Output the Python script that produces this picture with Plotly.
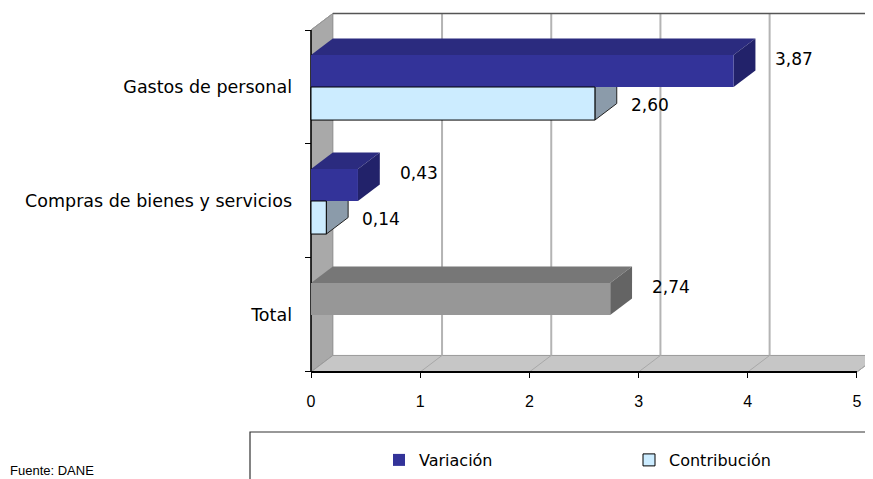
import plotly.graph_objects as go

# ---------------- data ----------------
categorias = ["Gastos de personal", "Compras de bienes y servicios", "Total"]
variacion = [3.87, 0.43, 2.74]
contribucion = [2.60, 0.14, None]
x_ticks = [0, 1, 2, 3, 4, 5]
x_tick_labels = ["0", "1", "2", "3", "4", "5"]
series_names = ["Variación", "Contribución"]
fuente = "Fuente: DANE"

# ---------------- geometry / style ----------------
pos = [2, 1, 0]            # category slots, top to bottom
VAR_W = 0.28
CON_W = 0.29
DX, DY = 0.2, 0.145        # 3-D depth offset (data units)
W, H = 873, 479
OFF = 8                    # page body margin in the browser
X_RANGE = [-2.775, 5.220]
Y_RANGE = [-1.509, 2.693]
X_MAX = 5
Y_LO, Y_HI = -0.5, 2.5


def px_x(px):   # page pixel -> paper fraction
    return (px - OFF) / W


def px_y(py):
    return (H - (py - OFF)) / H


var_front = ["#333399", "#333399", "#979797"]
var_top = ["#2b2b7f", "#2b2b7f", "#777777"]
var_side = ["#22226a", "#22226a", "#646464"]
con_front = "#CCECFF"
con_side = "#8b9baa"

shapes = []


def poly(pts, fill, line_color=None, line_width=0):
    path = "M " + " L ".join(f"{x},{y}" for x, y in pts) + " Z"
    shapes.append(dict(type="path", path=path, xref="x", yref="y", layer="below",
                       fillcolor=fill,
                       line=dict(color=line_color or fill, width=line_width)))


def seg(x0, y0, x1, y1, color, width):
    shapes.append(dict(type="line", x0=x0, y0=y0, x1=x1, y1=y1, xref="x", yref="y",
                       layer="below", line=dict(color=color, width=width)))


# walls
poly([(0, Y_LO), (0, Y_HI), (DX, Y_HI + DY), (DX, Y_LO + DY)], "#a9a9a9", "#8c8c8c", 1)
poly([(0, Y_LO), (X_MAX, Y_LO), (X_MAX + DX, Y_LO + DY), (DX, Y_LO + DY)], "#c6c6c6", "#9a9a9a", 1)
for t in x_ticks[1:]:
    seg(t + DX, Y_LO + DY, t + DX, Y_HI + DY, "#b4b4b4", 2)
    seg(t, Y_LO, t + DX, Y_LO + DY, "#a8a8a8", 1)
seg(DX, Y_HI + DY, X_MAX + DX + 0.2, Y_HI + DY, "#555555", 1.5)
seg(0, Y_HI, DX, Y_HI + DY, "#9a9a9a", 1)

# 3-D faces of the bars
for p, v, c, top, side in zip(pos, variacion, contribucion, var_top, var_side):
    y0, y1 = p, p + VAR_W
    poly([(0, y1), (v, y1), (v + DX, y1 + DY), (DX, y1 + DY)], top)
    poly([(v, y0), (v, y1), (v + DX, y1 + DY), (v + DX, y0 + DY)], side)
    if c is not None:
        y0c, y1c = p - CON_W, p
        poly([(c, y0c), (c, y1c), (c + DX, y1c + DY), (c + DX, y0c + DY)], con_side, "#222222", 1)

# front axis lines
seg(0, Y_LO, X_MAX, Y_LO, "#000000", 2)
seg(0, Y_LO, 0, Y_HI, "#000000", 1.5)

fig = go.Figure()
fig.add_trace(go.Bar(y=pos, x=variacion, orientation="h", width=VAR_W, offset=0,
                     name=series_names[0], marker=dict(color=var_front, line=dict(width=0)),
                     hoverinfo="skip"))
fig.add_trace(go.Bar(y=pos, x=contribucion, orientation="h", width=CON_W, offset=-CON_W,
                     name=series_names[1], marker=dict(color=con_front, line=dict(color="#000000", width=1)),
                     hoverinfo="skip"))

label_font = dict(family="DejaVu Sans", size=17, color="#000000")
annotations = []
for p, v, c in zip(pos, variacion, contribucion):
    annotations.append(dict(x=v + DX, y=p + VAR_W, xref="x", yref="y", text=f"{v:.2f}".replace(".", ","),
                            showarrow=False, xanchor="left", yanchor="middle", xshift=18, yshift=-4,
                            font=label_font))
    if c is not None:
        annotations.append(dict(x=c + DX, y=p, xref="x", yref="y", text=f"{c:.2f}".replace(".", ","),
                                showarrow=False, xanchor="left", yanchor="middle", xshift=12, yshift=-18,
                                font=label_font))
annotations.append(dict(x=px_x(8), y=px_y(470), xref="paper", yref="paper", text=fuente,
                        showarrow=False, xanchor="left", yanchor="middle",
                        font=dict(family="Liberation Sans", size=13, color="#000000")))

# legend frame
shapes.append(dict(type="rect", xref="paper", yref="paper", x0=px_x(250), x1=1.05, y0=-0.05,
                   y1=px_y(432), line=dict(color="#333333", width=1.2), fillcolor="rgba(0,0,0,0)"))

fig.update_layout(
    width=W, height=H, margin=dict(l=0, r=0, t=0, b=0), autosize=False,
    paper_bgcolor="white", plot_bgcolor="white", barmode="overlay",
    shapes=shapes, annotations=annotations,
    xaxis=dict(range=X_RANGE, tickvals=x_ticks, ticktext=x_tick_labels, anchor="free",
               position=(Y_LO - Y_RANGE[0]) / (Y_RANGE[1] - Y_RANGE[0]),
               ticks="outside", ticklen=5, tickcolor="#000000", tickwidth=1,
               showgrid=False, zeroline=False, showline=False, ticklabelstandoff=10,
               tickfont=dict(family="Liberation Sans", size=16, color="#000000")),
    yaxis=dict(range=Y_RANGE, tickvals=pos, ticktext=categorias, anchor="free",
               position=(0 - X_RANGE[0]) / (X_RANGE[1] - X_RANGE[0]),
               ticks="", showgrid=False, zeroline=False, showline=False, ticklabelstandoff=19,
               minor=dict(tickvals=[-0.5, 0.5, 1.5, 2.5], ticks="outside", ticklen=6,
                          tickcolor="#000000", tickwidth=1, showgrid=False),
               tickfont=dict(family="DejaVu Sans", size=17.5, color="#000000")),
    showlegend=True,
    legend=dict(orientation="h", x=371 / W, y=px_y(460), xanchor="left", yanchor="middle",
                entrywidth=205, entrywidthmode="pixels", bgcolor="rgba(0,0,0,0)",
                font=dict(family="DejaVu Sans", size=16, color="#000000")),
)

fig.write_html("out.html", config={"displayModeBar": False, "responsive": False})
